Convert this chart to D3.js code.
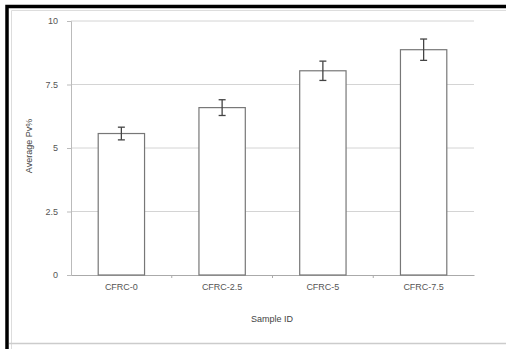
<!DOCTYPE html>
<html>
<head>
<meta charset="utf-8">
<script src="https://cdn.jsdelivr.net/npm/d3@7"></script>
<style>
  body { margin: 0; background: #fff; }
  svg { display: block; font-family: "Liberation Sans", Arial, sans-serif; }
</style>
</head>
<body>
<div id="chart"></div>
<script>
// chart data
const categories = ["CFRC-0", "CFRC-2.5", "CFRC-5", "CFRC-7.5"];
const values = [5.57, 6.59, 8.04, 8.87];
const errors = [0.25, 0.31, 0.38, 0.42];
const yTicks = [0, 2.5, 5, 7.5, 10];
const yTickLabels = ["0", "2.5", "5", "7.5", "10"];

const width = 506, height = 349;
const margin = { top: 21, right: 32, bottom: 74, left: 71 };

const svg = d3.select("#chart").append("svg")
    .attr("width", width)
    .attr("height", height);

// outer frame: thick black top/left, thin grey inner edge, grey bottom
const frame = svg.append("g").attr("fill", "none");
frame.append("path")
    .attr("d", `M7,${height}V6.5H${width}`)
    .attr("stroke", "#000")
    .attr("stroke-width", 3.5);
frame.append("path")
    .attr("d", `M11.5,${height}V10.5H${width}`)
    .attr("stroke", "#ddd")
    .attr("stroke-width", 1);
frame.append("line")
    .attr("x1", 9).attr("x2", width)
    .attr("y1", 343.5).attr("y2", 343.5)
    .attr("stroke", "#ccc")
    .attr("stroke-width", 1.5);

const x = d3.scaleBand()
    .domain(categories)
    .range([margin.left, width - margin.right])
    .paddingInner(0.54)
    .paddingOuter(0.27);

const y = d3.scaleLinear()
    .domain([0, 10])
    .range([height - margin.bottom, margin.top]);

// gridlines
svg.append("g")
    .selectAll("line")
    .data(yTicks.slice(1))
    .join("line")
    .attr("x1", margin.left).attr("x2", width - margin.right)
    .attr("y1", d => y(d)).attr("y2", d => y(d))
    .attr("stroke", "#d4d4d4")
    .attr("stroke-width", 1);

// y axis
const yAxis = svg.append("g")
    .attr("transform", `translate(${margin.left},0)`)
    .call(d3.axisLeft(y).tickValues(yTicks)
        .tickFormat((d, i) => yTickLabels[i])
        .tickSize(4).tickPadding(9));
yAxis.select(".domain").attr("stroke", "#bbb");
yAxis.selectAll(".tick line").attr("stroke", "#bbb");
yAxis.selectAll("text").attr("fill", "#555").attr("font-size", 9);

// x axis
const xAxis = svg.append("g")
    .attr("transform", `translate(0,${y(0)})`)
    .call(d3.axisBottom(x).tickSize(0).tickPadding(9).tickSizeOuter(0));
xAxis.select(".domain").attr("stroke", "#aaa");
xAxis.selectAll("text").attr("fill", "#555").attr("font-size", 9);

// category separators
const step = x.step();
svg.append("g")
    .selectAll("line")
    .data(categories.slice(1))
    .join("line")
    .attr("x1", d => x(d) - (step - x.bandwidth()) / 2)
    .attr("x2", d => x(d) - (step - x.bandwidth()) / 2)
    .attr("y1", y(0)).attr("y2", y(0) + 3)
    .attr("stroke", "#aaa");

// bars
svg.append("g")
    .selectAll("rect")
    .data(categories)
    .join("rect")
    .attr("x", d => x(d))
    .attr("y", (d, i) => y(values[i]))
    .attr("width", x.bandwidth())
    .attr("height", (d, i) => y(0) - y(values[i]))
    .attr("fill", "#fff")
    .attr("stroke", "#777")
    .attr("stroke-width", 1.2);

// error bars
const err = svg.append("g").attr("stroke", "#444").attr("stroke-width", 1.3);
categories.forEach((c, i) => {
    const cx = x(c) + x.bandwidth() / 2;
    const hi = y(values[i] + errors[i]);
    const lo = y(values[i] - errors[i]);
    err.append("line").attr("x1", cx).attr("x2", cx).attr("y1", hi).attr("y2", lo);
    err.append("line").attr("x1", cx - 3.5).attr("x2", cx + 3.5).attr("y1", hi).attr("y2", hi);
    err.append("line").attr("x1", cx - 3.5).attr("x2", cx + 3.5).attr("y1", lo).attr("y2", lo);
});

// axis titles
svg.append("text")
    .attr("x", 272).attr("y", 322)
    .attr("text-anchor", "middle")
    .attr("fill", "#444")
    .attr("font-size", 9)
    .text("Sample ID");

svg.append("text")
    .attr("transform", "translate(32,146) rotate(-90)")
    .attr("text-anchor", "middle")
    .attr("fill", "#444")
    .attr("font-size", 9)
    .text("Average Pv%");
</script>
</body>
</html>
